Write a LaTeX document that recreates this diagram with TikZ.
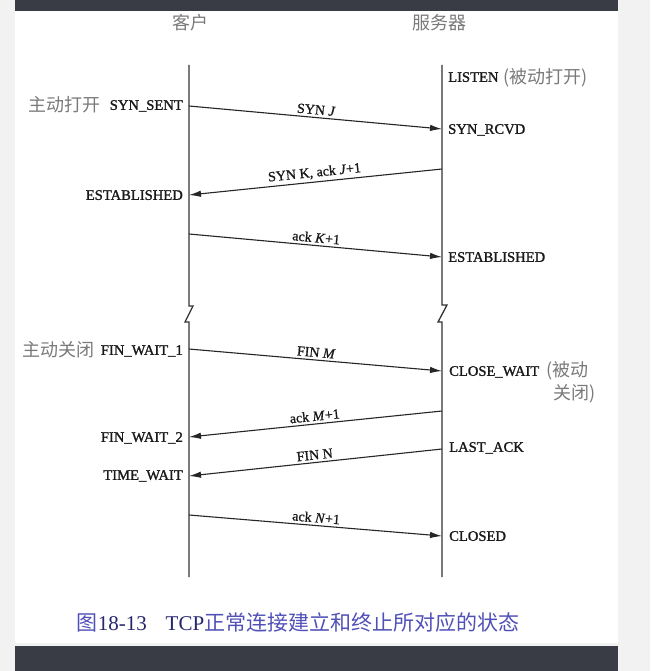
\documentclass[tikz,border=0pt]{standalone}
\usepackage{fontspec}
\setmainfont{Liberation Serif}
\newfontfamily\semib{Liberation Serif}[FakeBold=1.3]
\newfontfamily\lblfont{Liberation Serif}[FakeBold=0.9]
\newfontfamily\cjk{Noto Sans CJK SC}
\usetikzlibrary{arrows.meta}
\definecolor{bar}{HTML}{393B45}
\definecolor{outer}{HTML}{F2F2F2}
\definecolor{cjkgray}{HTML}{7A7A7A}
\definecolor{capblue}{HTML}{5050B8}
\definecolor{capnavy}{HTML}{26266E}
\begin{document}
\begin{tikzpicture}[x=1pt,y=-1pt,
 state/.style={font=\semib\fontsize{14.6}{16}\selectfont, text height=9.7pt, text depth=0pt, inner sep=0pt, text=black!90},
 zh/.style={font=\cjk\fontsize{18}{20}\selectfont, text=cjkgray, inner sep=0pt, text height=13.6pt, text depth=0pt},
 lifeline/.style={line width=1.3pt, draw=black!80},
 msg/.style={line width=1.1pt, draw=black!85, -{Latex[length=12pt,width=6.5pt]}},
 lbl/.style={font=\lblfont\fontsize{14}{16}\selectfont, sloped, above, inner sep=2.5pt, midway, text=black!90}]
\useasboundingbox (0,0) rectangle (650,671);
\fill[outer] (0,0) rectangle (650,671);
\fill[white] (15,11) rectangle (618,643);
\fill[bar] (15,0) rectangle (618,11);
\fill[bar] (15,646) rectangle (618,671);

% headers
\node[zh] (hc) at (190,23) {客户};
\node[zh] (hs) at (439,23) {服务器};

% lifelines
\draw[lifeline] (189,65) -- (189,306) -- (193,306) -- (185,322) -- (189,322) -- (189,577);
\draw[lifeline] (442,65) -- (442,305) -- (447,305) -- (438,322) -- (442,322) -- (442,577);

% message end points
\coordinate (c1) at (189,106); \coordinate (s1) at (442,129);
\coordinate (s2) at (442,169); \coordinate (c2) at (189,195);
\coordinate (c3) at (189,234); \coordinate (s3) at (442,257);
\coordinate (c4) at (189,349); \coordinate (s4) at (442,371);
\coordinate (s5) at (442,411); \coordinate (c5) at (189,437);
\coordinate (s6) at (442,449); \coordinate (c6) at (189,476);
\coordinate (c7) at (189,515); \coordinate (s7) at (442,536);

% client states
\node[state, anchor=east] (synsent) at (183,105) {SYN\_SENT};
\node[zh, anchor=east] (aopen) at (101,105) {主动打开};
\node[state, anchor=east] (estc) at (183,195) {ESTABLISHED};
\node[state, anchor=east] (fw1) at (183,350) {FIN\_WAIT\_1};
\node[zh, anchor=east] (aclose) at (95,350) {主动关闭};
\node[state, anchor=east] (fw2) at (183,437) {FIN\_WAIT\_2};
\node[state, anchor=east] (tw) at (183,475) {TIME\_WAIT};

% server states
\node[state, anchor=west] (listen) at (448,77) {LISTEN};
\node[zh, anchor=west] (popen) at (503,77) {(被动打开)};
\node[state, anchor=west] (synrcvd) at (448,129) {SYN\_RCVD};
\node[state, anchor=west] (ests) at (448,257) {ESTABLISHED};
\node[state, anchor=west] (cw) at (449,371) {CLOSE\_WAIT};
\node[zh, anchor=west] (pclose1) at (546,370) {(被动};
\node[zh, anchor=west] (pclose2) at (553,393) {关闭)};
\node[state, anchor=west] (lack) at (449,447) {LAST\_ACK};
\node[state, anchor=west] (closed) at (449,536) {CLOSED};

% messages
\draw[msg] (c1) -- node[lbl] {SYN \textit{J}} (s1);
\draw[msg] (s2) -- node[lbl] {SYN K, ack \textit{J}+1} (c2);
\draw[msg] (c3) -- node[lbl] {ack \textit{K}+1} (s3);
\draw[msg] (c4) -- node[lbl] {FIN \textit{M}} (s4);
\draw[msg] (s5) -- node[lbl] {ack \textit{M}+1} (c5);
\draw[msg] (s6) -- node[lbl] {FIN N} (c6);
\draw[msg] (c7) -- node[lbl] {ack \textit{N}+1} (s7);

% caption
\node[inner sep=0pt, font=\fontsize{21}{24}\selectfont] (cap) at (298,623)
  {{\cjk\color{capblue}图}{\color{capnavy}18-13\hspace{0.9em}TCP}{\cjk\color{capblue}正常连接建立和终止所对应的状态}};
\end{tikzpicture}
\end{document}
